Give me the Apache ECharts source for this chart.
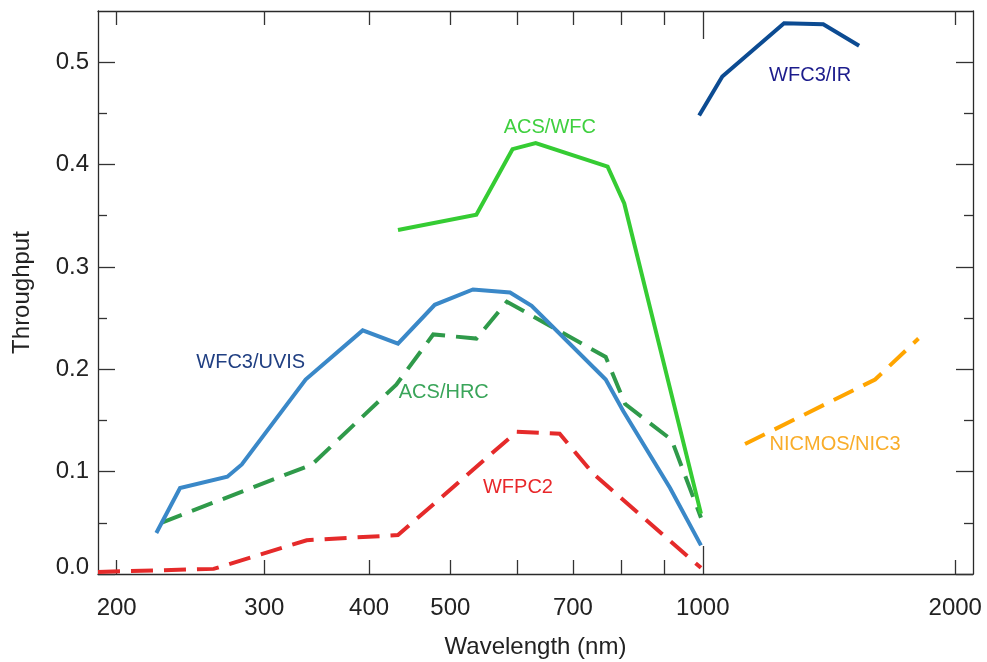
<!DOCTYPE html>
<html>
<head>
<meta charset="utf-8">
<script src="https://cdn.jsdelivr.net/npm/echarts@6/dist/echarts.min.js"></script>
<style>
html,body{margin:0;padding:0;background:#fff;}
#chart{width:987px;height:662px;}
</style>
</head>
<body>
<div id="chart"></div>
<script>
// ---- data (wavelength in nm, throughput) ----
const uvisWave = [223, 238, 271, 282, 336, 393, 433, 479, 532, 589, 625, 766, 804, 914, 995];
const uvisThru = [0.040, 0.084, 0.095, 0.107, 0.190, 0.238, 0.225, 0.263, 0.278, 0.275, 0.262, 0.190, 0.159, 0.084, 0.028];

const hrcWave = [226, 342, 431, 477, 537, 584, 766, 808, 918, 995];
const hrcThru = [0.050, 0.107, 0.185, 0.234, 0.230, 0.266, 0.212, 0.166, 0.131, 0.055];

const wfcWave = [433, 537, 593, 632, 770, 806, 995];
const wfcThru = [0.336, 0.351, 0.415, 0.421, 0.398, 0.362, 0.059];

const wfpc2Wave = [190, 261, 337, 433, 600, 675, 740, 995];
const wfpc2Thru = [0.002, 0.005, 0.033, 0.038, 0.139, 0.137, 0.098, 0.006];

const irWave = [990, 1055, 1250, 1392, 1536];
const irThru = [0.448, 0.486, 0.538, 0.537, 0.516];

const nicWave = [1123, 1605, 1808];
const nicThru = [0.127, 0.190, 0.230];

const xTickValues = [200, 300, 400, 500, 600, 700, 800, 900, 2000];
const xDecadeTicks = [1000];
const xLabelValues = [200, 300, 400, 500, 700, 1000, 2000];
const yMajorTicks = [0, 0.1, 0.2, 0.3, 0.4, 0.5];
const yMinorTicks = [0.05, 0.15, 0.25, 0.35, 0.45];

// ---- chart ----
const FONT = '"Liberation Sans", Arial, Helvetica, sans-serif';
const AXIS_COLOR = '#2a2a2a';
const pairs = (xs, ys) => xs.map((x, i) => [x, ys[i]]);

function xAx(position, tickVals, tickLen, line, withLabels) {
  return {
    type: 'log', logBase: 10, min: 190, max: 2100, position: position,
    axisLine: { show: line, onZero: false, lineStyle: { color: AXIS_COLOR, width: 1.3 } },
    axisTick: { show: true, inside: true, length: tickLen, customValues: tickVals,
                lineStyle: { color: '#333', width: 1.3 } },
    axisLabel: withLabels ? { show: true, customValues: xLabelValues, fontSize: 24, color: '#222',
                fontFamily: FONT, margin: 22, formatter: v => String(Math.round(v)) } : { show: false },
    splitLine: { show: false }, minorTick: { show: false }, minorSplitLine: { show: false },
    name: withLabels ? 'Wavelength (nm)' : '', nameLocation: 'middle', nameGap: 61,
    nameTextStyle: { fontSize: 24, color: '#222', fontFamily: FONT }
  };
}
function yAx(position, tickVals, tickLen, line, withLabels) {
  return {
    type: 'value', min: 0, max: 0.55, position: position,
    axisLine: { show: line, onZero: false, lineStyle: { color: AXIS_COLOR, width: 1.3 } },
    axisTick: { show: true, inside: true, length: tickLen, customValues: tickVals,
                lineStyle: { color: '#333', width: 1.3 } },
    axisLabel: withLabels ? {
      show: true, customValues: yMajorTicks, fontSize: 24, color: '#222', fontFamily: FONT, margin: 9,
      formatter: v => (Math.abs(v) < 1e-9 ? '{z|0.0}' : v.toFixed(1)),
      rich: { z: { fontSize: 24, color: '#222', fontFamily: FONT, padding: [0, 0, 14, 0] } }
    } : { show: false },
    splitLine: { show: false },
    name: withLabels ? 'Throughput' : '', nameLocation: 'middle', nameGap: 64, nameRotate: 90,
    nameTextStyle: { fontSize: 24, color: '#222', fontFamily: FONT }
  };
}
function lbl(text, color, coord) {
  return {
    symbol: 'circle', symbolSize: 1, silent: true,
    itemStyle: { color: 'rgba(0,0,0,0)' },
    label: { show: true, position: 'inside', formatter: text, color: color, fontSize: 20, fontFamily: FONT },
    data: [{ coord: coord }]
  };
}
function line(name, xs, ys, color, dashed, label) {
  return {
    name: name, type: 'line', xAxisIndex: 0, yAxisIndex: 0, data: pairs(xs, ys),
    showSymbol: false, symbol: 'none', smooth: false, clip: true,
    lineStyle: { color: color, width: 4, type: dashed ? [22, 11] : 'solid', cap: 'butt', join: 'miter' },
    markPoint: label
  };
}

const option = {
  animation: false,
  backgroundColor: '#fff',
  grid: { left: 98, right: 14, top: 11, bottom: 88, containLabel: false, outerBoundsMode: 'none' },
  xAxis: [
    xAx('bottom', xTickValues, 14, true, true),
    xAx('bottom', xDecadeTicks, 28, false, false),
    xAx('top', xTickValues, 14, true, false),
    xAx('top', xDecadeTicks, 28, false, false)
  ],
  yAxis: [
    yAx('left', yMajorTicks, 17, true, true),
    yAx('left', yMinorTicks, 9, false, false),
    yAx('right', yMajorTicks, 17, true, false),
    yAx('right', yMinorTicks, 9, false, false)
  ],
  series: [
    line('WFPC2', wfpc2Wave, wfpc2Thru, '#e52a2a', true, lbl('WFPC2', '#e8272a', [602, 0.085])),
    line('ACS/HRC', hrcWave, hrcThru, '#2f9a4a', true, lbl('ACS/HRC', '#3aa55a', [491, 0.177])),
    line('WFC3/UVIS', uvisWave, uvisThru, '#3a88c8', false, lbl('WFC3/UVIS', '#203f82', [289, 0.207])),
    line('ACS/WFC', wfcWave, wfcThru, '#35cc33', false, lbl('ACS/WFC', '#3fd03f', [657, 0.436])),
    line('WFC3/IR', irWave, irThru, '#0c4b92', false, lbl('WFC3/IR', '#1c1c8c', [1343, 0.487])),
    line('NICMOS/NIC3', nicWave, nicThru, '#ffa500', true, lbl('NICMOS/NIC3', '#f9ad2a', [1438, 0.127]))
  ]
};

const chart = echarts.init(document.getElementById('chart'), null, { renderer: 'canvas' });
chart.setOption(option);
</script>
</body>
</html>
